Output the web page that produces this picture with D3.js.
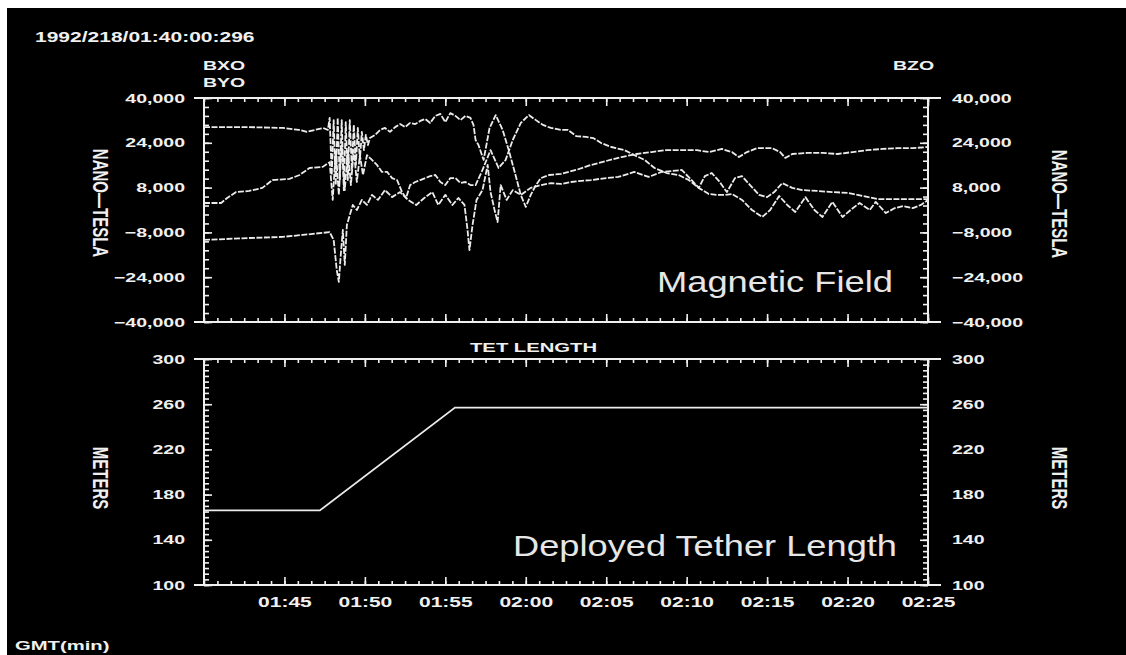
<!DOCTYPE html>
<html>
<head>
<meta charset="utf-8">
<script src="https://cdn.jsdelivr.net/npm/d3@7"></script>
<style>
  body { margin: 0; background: #fff; }
  svg { display: block; }
  text { font-family: "Liberation Sans", Arial, sans-serif; }
</style>
</head>
<body>
<svg id="chart"></svg>
<script>
// minutes after 01:40 GMT, magnetometer readings in nano-tesla
const bxo = [[0,29600],[2.8,29600],[4.9,29300],[5.9,28600],[6.4,27900],[6.9,28600],[7.4,29300],[7.7,28600],
  [7.81,32900],[7.94,12500],[8.06,32100],[8.19,8900],[8.31,32900],[8.44,10700],[8.56,32100],[8.69,7100],
  [8.81,31400],[8.94,10700],[9.06,32100],[9.19,14300],[9.31,30400],[9.44,16100],[9.56,29300],[9.69,17900],
  [9.81,27900],[9.94,21400],[10.06,26800],[10.19,23200],[10.31,25700],[10.63,26800],[10.94,28600],[11.25,29300],
  [11.56,27900],[11.88,29600],[12.19,30700],[12.5,29600],[12.81,31100],[13.13,30700],[13.44,31800],[13.75,32500],
  [14.06,31100],[14.38,33600],[14.69,34300],[15.0,31400],[15.31,34600],[15.63,33600],[15.94,32100],[16.25,33600],
  [16.56,32900],[16.75,30400],[16.88,25000],[17.06,23200],[17.38,17900],[17.75,29300],[18.13,33900],[18.56,28600],
  [18.94,21400],[19.31,13600],[19.69,5400],[20.0,1100],[20.31,5400],[20.63,8900],[20.94,11400],[21.44,12500],
  [22.19,12900],[23.13,14300],[24.06,16100],[25.0,17500],[25.94,18900],[26.88,20000],[27.81,20700],[28.75,21400],
  [29.69,21400],[30.63,21400],[31.38,20700],[32.19,21800],[32.81,20700],[33.25,18900],[33.75,20700],[34.38,22100],
  [35.31,22100],[35.81,20700],[36.13,18600],[36.56,20000],[37.5,20400],[38.44,20400],[39.38,20000],[40.31,20700],
  [41.25,21400],[42.19,21800],[43.13,22100],[44.06,22100],[45,22500]]

const byo = [[0,2500],[1.06,2500],[1.44,4300],[2.0,6400],[2.81,6800],[3.63,7900],[4.25,10700],[5.31,11100],
  [5.94,12500],[6.56,15000],[7.38,15400],[7.81,17100],[8.0,3600],[8.19,21400],[8.38,5400],[8.56,23200],
  [8.75,7100],[8.94,21400],[9.13,8900],[9.31,21400],[9.5,10000],[9.69,19600],[9.88,12500],[10.13,19600],
  [10.44,17900],[10.75,16100],[11.06,13600],[11.38,13600],[11.69,11400],[12.0,10700],[12.31,6400],[12.56,4300],
  [12.81,8900],[13.13,10000],[13.44,10700],[13.75,11400],[14.06,12100],[14.38,12500],[14.69,10000],[15.0,8900],
  [15.31,11400],[15.63,11400],[15.94,9600],[16.25,10000],[16.56,8900],[16.88,8900],[17.31,14300],[17.81,21400],
  [18.31,15000],[18.75,17900],[19.19,25000],[19.69,31100],[20.19,33900],[20.63,32100],[21.06,30400],[21.56,29300],
  [22.19,28600],[22.63,28600],[23.13,26400],[23.75,26100],[24.19,25700],[24.69,23900],[25.31,22500],[26.13,21400],
  [26.75,19600],[27.38,17900],[28.0,15000],[28.75,13200],[29.5,12500],[30.13,10700],[30.75,7900],[31.38,5700],
  [31.88,5400],[32.38,5400],[32.81,5700],[33.44,3600],[34.06,0],[34.69,-2500],[35.19,0],[35.75,5000],
  [36.25,1800],[36.75,-700],[37.38,4600],[37.94,0],[38.44,-2500],[39.06,2900],[39.69,-2500],[40.19,0],
  [40.75,2500],[41.38,0],[41.75,2900],[42.38,-1100],[42.94,700],[43.44,1400],[44.06,700],[44.56,1800],[45,3600]]

const bzo = [[0,-10700],[2.81,-10000],[4.88,-9600],[6.13,-8900],[7.81,-7900],[8.06,-10700],[8.25,-21400],
  [8.38,-25700],[8.5,-16100],[8.63,-7100],[8.75,-19600],[8.88,-5400],[9.06,-1800],[9.25,1800],[9.5,0],
  [9.81,3600],[10.13,1800],[10.44,5400],[10.81,3600],[11.25,7100],[11.69,4600],[12.19,6400],[12.69,3600],
  [13.19,1800],[13.69,4300],[14.19,6400],[14.56,1800],[15.0,5400],[15.44,1800],[15.81,4300],[16.19,1800],
  [16.38,-7100],[16.5,-14300],[16.69,-5400],[16.94,3600],[17.31,7100],[17.63,16100],[17.81,6400],[18.06,0],
  [18.25,-4300],[18.44,8900],[18.81,3600],[19.19,7100],[19.69,5400],[20.31,7900],[20.94,8900],[21.56,9600],
  [22.19,9300],[22.81,10000],[23.44,10400],[24.06,10700],[25.0,11400],[25.75,11800],[26.75,13600],[27.63,11800],
  [28.44,13600],[29.06,13900],[29.69,14300],[30.31,10700],[30.75,7900],[31.13,12100],[31.56,13200],[32.0,10400],
  [32.5,6400],[33.0,11400],[33.44,12100],[33.94,8900],[34.5,5400],[35.0,4600],[35.44,6400],[35.94,9600],
  [36.56,7900],[37.19,7100],[38.13,6800],[39.06,6400],[40.0,6100],[40.94,5000],[41.88,3900],[42.81,3900],
  [43.75,3900],[45,3900]]

// deployed tether length, meters
const tether = [[0,166],[7.2,166],[15.6,257],[45,257]]

const magTicks = [-40000, -24000, -8000, 8000, 24000, 40000]
const tetTicks = [100, 140, 180, 220, 260, 300]
const timeTicks = [5, 10, 15, 20, 25, 30, 35, 40, 45]

const W = 1126, H = 655
const fg = '#f0f0f0'
const WIDE = 1.5   // the scan is stretched sideways

const svg = d3.select('#chart').attr('width', W).attr('height', H)
svg.append('rect').attr('x', 7).attr('y', 8).attr('width', W - 7).attr('height', H - 8).attr('fill', '#000')

const x = d3.scaleLinear().domain([0, 45]).range([204, 928])
const yMag = d3.scaleLinear().domain([-40000, 40000]).range([322, 98])
const yTet = d3.scaleLinear().domain([100, 300]).range([585, 359])

const minorX = d3.range(0, 45.001, 50 / 60)
const fmtTime = m => {
  const t = 100 + m
  return String(Math.floor(t / 60)).padStart(2, '0') + ':' + String(t % 60).padStart(2, '0')
}

function panel(y, major, minor, fmt){
  const g = svg.append('g')
  const [L, R] = x.range()
  const [bottom, top] = y.range()
  ;[top, bottom].forEach(v => {
    g.append('line').attr('x1', L - 10).attr('x2', R + 13).attr('y1', v).attr('y2', v)
  })
  ;[L, R].forEach(v => {
    g.append('line').attr('x1', v).attr('x2', v).attr('y1', top).attr('y2', bottom)
  })
  g.selectAll('line').attr('stroke', fg).attr('stroke-width', 2)

  const tick = (axis, tx, ty) => g.append('g')
    .attr('transform', `translate(${tx},${ty})`)
    .attr('color', fg)
    .call(axis)
    .call(a => a.select('.domain').remove())
    .call(a => a.selectAll('line').attr('stroke-width', 1.6))
  tick(d3.axisBottom(x).tickValues(minorX).tickSize(4).tickFormat(''), 0, top)
  tick(d3.axisBottom(x).tickValues(timeTicks).tickSize(8).tickFormat(''), 0, top)
  tick(d3.axisTop(x).tickValues(minorX).tickSize(4).tickFormat(''), 0, bottom)
  tick(d3.axisTop(x).tickValues(timeTicks).tickSize(8).tickFormat(''), 0, bottom)
  tick(d3.axisRight(y).tickValues(minor).tickSize(5).tickFormat(''), L, 0)
  tick(d3.axisRight(y).tickValues(major).tickSize(8).tickFormat(''), L, 0)
  tick(d3.axisLeft(y).tickValues(minor).tickSize(5).tickFormat(''), R, 0)
  tick(d3.axisLeft(y).tickValues(major).tickSize(8).tickFormat(''), R, 0)

  const lab = (axis, tx) => g.append('g')
    .attr('transform', `translate(${tx},0)`)
    .call(axis)
    .call(a => a.select('.domain').remove())
    .call(a => a.selectAll('line').remove())
    .attr('color', fg)
    .attr('font-size', 13)
    .attr('font-weight', 'bold')
    .attr('font-family', '"Liberation Sans", Arial, sans-serif')
    .call(a => a.selectAll('text').classed('wide', true))
  lab(d3.axisLeft(y).tickValues(major).tickSize(0).tickPadding(19).tickFormat(fmt), L)
  lab(d3.axisRight(y).tickValues(major).tickSize(0).tickPadding(24).tickFormat(fmt), R)
  return g
}

panel(yMag, magTicks, d3.range(-40000, 40001, 3200), d3.format(','))
panel(yTet, tetTicks, d3.range(100, 301, 5), d3.format('d'))

// time labels under the lower panel
svg.append('g')
  .attr('transform', `translate(0,${yTet.range()[0]})`)
  .call(d3.axisBottom(x).tickValues(timeTicks).tickSize(0).tickPadding(12).tickFormat(fmtTime))
  .call(a => a.select('.domain').remove())
  .attr('color', fg)
  .attr('font-size', 14)
  .attr('font-weight', 'bold')
  .attr('font-family', '"Liberation Sans", Arial, sans-serif')
  .call(a => a.selectAll('text').classed('wide', true))

// data
const magLine = d3.line().x(d => x(d[0])).y(d => yMag(d[1]))
const series = [bxo, byo, bzo]
svg.append('g').selectAll('path')
  .data(series)
  .enter()
  .append('path')
  .attr('d', magLine)
  .attr('fill', 'none')
  .attr('stroke', '#ececec')
  .attr('stroke-width', 1.8)
  .attr('stroke-dasharray', '6,1.5')
  .attr('stroke-linejoin', 'round')

const tetLine = d3.line().x(d => x(d[0])).y(d => yTet(d[1]))
svg.append('path')
  .datum(tether)
  .attr('d', tetLine)
  .attr('fill', 'none')
  .attr('stroke', '#ececec')
  .attr('stroke-width', 1.8)

// text
const label = (txt, tx, ty, size) => svg.append('text')
  .attr('x', tx).attr('y', ty)
  .attr('fill', fg)
  .attr('font-size', size)
  .attr('font-weight', 'bold')
  .classed('wide', true)
  .text(txt)
label('1992/218/01:40:00:296', 35, 42, 14)
label('BXO', 203, 70, 13)
label('BYO', 203, 87, 13)
label('BZO', 893, 70, 13)
label('TET LENGTH', 470, 352, 13.5)
label('GMT(min)', 15, 650, 13.5)

const vlabel = (txt, cx, cy) => svg.append('text')
  .attr('transform', `translate(${cx},${cy}) scale(${WIDE},1) rotate(90)`)
  .attr('text-anchor', 'middle')
  .attr('dominant-baseline', 'central')
  .attr('fill', fg)
  .attr('font-size', 15)
  .attr('font-weight', 'bold')
  .text(txt)
vlabel('NANO\u2014TESLA', 101, 203)
vlabel('NANO\u2014TESLA', 1060, 204)
vlabel('METERS', 101, 478)
vlabel('METERS', 1060, 478)

const big = (txt, tx, ty, len) => svg.append('text')
  .attr('x', tx).attr('y', ty)
  .attr('fill', '#e6e6e6')
  .attr('font-size', 30)
  .attr('textLength', len)
  .attr('lengthAdjust', 'spacingAndGlyphs')
  .text(txt)
big('Magnetic Field', 657, 292, 236)
big('Deployed Tether Length', 513, 556, 384)

// widen the bold labels like the scanned plot
svg.selectAll('text.wide').each(function(){
  const w = this.getComputedTextLength()
  d3.select(this).attr('textLength', w * WIDE).attr('lengthAdjust', 'spacingAndGlyphs')
})
</script>
</body>
</html>
